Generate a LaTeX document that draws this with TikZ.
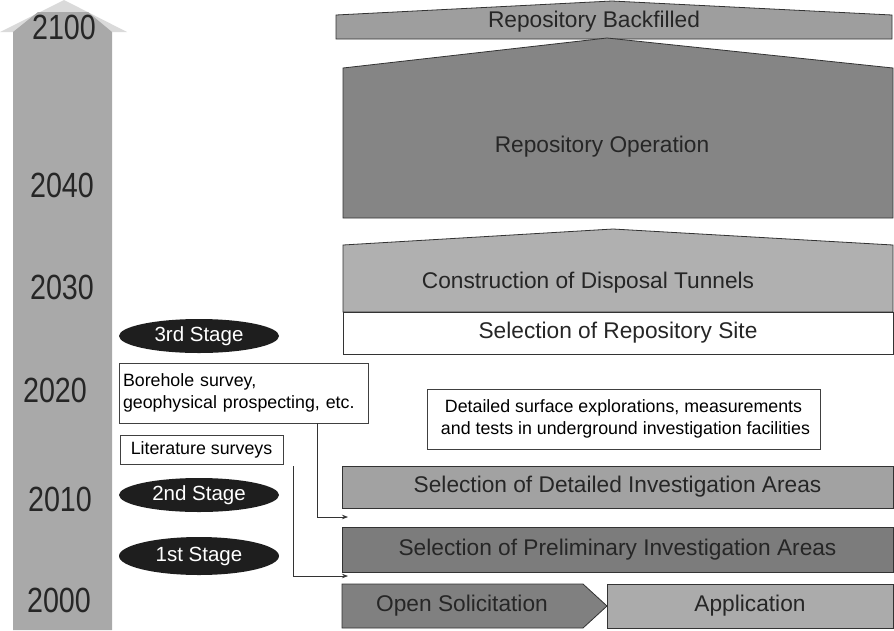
\documentclass[tikz,border=0pt]{standalone}
\usepackage{fontspec}
\setmainfont{Liberation Sans}
\usetikzlibrary{shapes.geometric,arrows.meta}
\definecolor{tlgray}{HTML}{A9A9A9}
\definecolor{tlhead}{HTML}{DADADA}
\definecolor{backgray}{HTML}{9E9E9E}
\definecolor{opgray}{HTML}{858585}
\definecolor{congray}{HTML}{B0B0B0}
\definecolor{detgray}{HTML}{A2A2A2}
\definecolor{pregray}{HTML}{7C7C7C}
\definecolor{solgray}{HTML}{808080}
\definecolor{appgray}{HTML}{ABABAB}
\definecolor{stagefill}{HTML}{1E1E1E}
\newcommand\yearlbl[1]{\scalebox{0.82}[1]{#1}}
\begin{document}
\begin{tikzpicture}[x=1pt,y=-1pt,
  year/.style={inner sep=0pt, font=\fontsize{35}{35}\selectfont, text=black!85},
  band/.style={draw=black!80, line width=0.8pt},
  bandtext/.style={inner sep=0pt, font=\fontsize{22.7}{26}\selectfont, text=black!85},
  bar/.style={draw=black!80, line width=0.8pt, rectangle, inner sep=0pt,
              font=\fontsize{22.7}{26}\selectfont, text=black!85},
  stage/.style={ellipse, fill=stagefill, inner sep=0pt, minimum width=160pt,
                font=\fontsize{20.5}{24}\selectfont, text=white},
  infobox/.style={draw=black!75, line width=0.6pt, rectangle, inner sep=0pt,
                  font=\fontsize{17.8}{22}\selectfont},
  conn/.style={draw=black!80, line width=0.7pt, -{Stealth[length=6pt,width=4.5pt]}}
]
\useasboundingbox (0,0) rectangle (894,630);

% time axis
\fill[tlhead] (0,32) -- (64,0) -- (127,32) -- cycle;
\fill[tlgray] (13,630) -- (13,32) -- (38,12) -- (88,12) -- (112,32) -- (112,630) -- cycle;
\node[year] (y2100) at (64,27)  {\yearlbl{2100}};
\node[year] (y2040) at (62,185) {\yearlbl{2040}};
\node[year] (y2030) at (62,287) {\yearlbl{2030}};
\node[year] (y2020) at (55,390) {\yearlbl{2020}};
\node[year] (y2010) at (60,499) {\yearlbl{2010}};
\node[year] (y2000) at (59,600) {\yearlbl{2000}};

% repository phases
\filldraw[band, fill=backgray] (336,39) -- (336,15) -- (612,1) -- (892,15) -- (892,39) -- cycle;
\node[bandtext] (backfill) at (594,22) {Repository Backfilled};

\filldraw[band, fill=opgray] (343,218) -- (343,68) -- (607,38) -- (893,68) -- (893,218) -- cycle;
\node[bandtext] (oper) at (602,147) {Repository Operation};

\filldraw[band, fill=congray] (343,312) -- (343,245) -- (613,229) -- (893,245) -- (893,312) -- cycle;
\node[bandtext] (constr) at (588,283) {Construction of Disposal Tunnels};

\node[bar, fill=white, minimum width=550pt, minimum height=42pt] (site) at (618,333)
  {Selection of Repository Site};

% investigation texts
\node[infobox, minimum width=249pt, minimum height=60pt, align=left, text width=241pt]
  (bore) at (243.5,393) {Borehole survey,\\geophysical prospecting, etc.};
\node[infobox, minimum width=163pt, minimum height=29pt] (lit) at (201.5,449.5)
  {Literature surveys};
\node[infobox, minimum width=393pt, minimum height=60pt, align=center]
  (detail) at (623.5,419) {Detailed surface explorations, measurements\\
  \hspace*{4pt}and tests in underground investigation facilities};

% stages
\node[stage, minimum height=34pt] (s3) at (199,336) {3rd Stage};
\node[stage, minimum height=34pt] (s2) at (199,495) {2nd Stage};
\node[stage, minimum height=38pt] (s1) at (199,556) {1st Stage};

% selection bars
\node[bar, fill=detgray, minimum width=551pt, minimum height=42pt] (detsel) at (617.5,487)
  {Selection of Detailed Investigation Areas};
\node[bar, fill=pregray, minimum width=551pt, minimum height=45pt] (presel) at (617.5,549.5)
  {Selection of Preliminary Investigation Areas};

% solicitation and application
\filldraw[band, fill=solgray] (342,584) -- (583,584) -- (607,606) -- (583,628) -- (342,628) -- cycle;
\node[bandtext] (open) at (462,606) {Open Solicitation};
\filldraw[band, fill=appgray] (607,584) -- (893,584) -- (893,628) -- (607,628) -- cycle;
\node[bandtext] (app) at (750,606) {Application};

% connectors
\coordinate (bore out) at ([xshift=73.5pt]bore.south);
\coordinate (lit out) at ([xshift=10pt,yshift=-2pt]lit.south east);
\coordinate (det in) at (348,517);
\coordinate (pre in) at (348,576);
\draw[conn] (bore out) |- (det in);
\draw[conn] (lit out) |- (pre in);
\end{tikzpicture}
\end{document}
